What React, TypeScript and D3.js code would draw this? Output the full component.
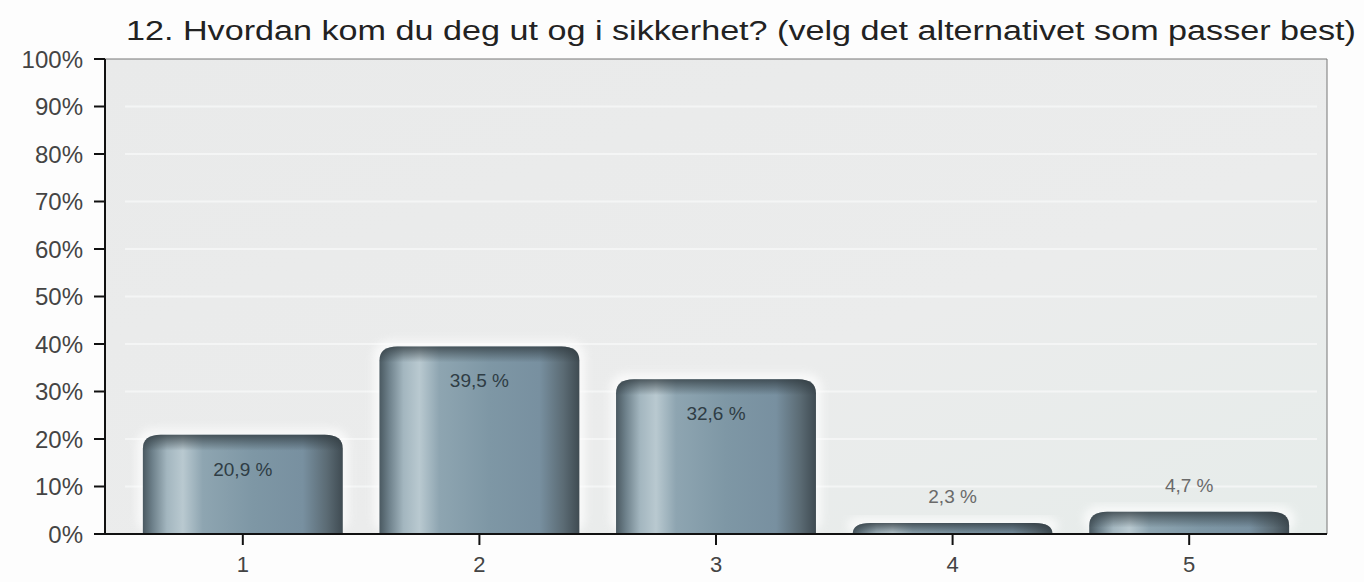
import React from "react";
import * as d3 from "d3";

const title = "12. Hvordan kom du deg ut og i sikkerhet? (velg det alternativet som passer best)";
const categories = ["1", "2", "3", "4", "5"];
const values = [20.9, 39.5, 32.6, 2.3, 4.7];
const valueLabels = ["20,9 %", "39,5 %", "32,6 %", "2,3 %", "4,7 %"];
const yTicks = [0, 10, 20, 30, 40, 50, 60, 70, 80, 90, 100];

const W = 1364;
const H = 582;
const left = 105;
const right = 1327;
const top = 59;
const bottom = 534;

function barPath(x0: number, y0: number, w: number, h: number) {
  const rx = Math.min(18, w / 2);
  const ry = Math.min(14, h);
  const x1 = x0 + w;
  const y1 = y0 + h;
  return `M${x0},${y1} L${x0},${y0 + ry} Q${x0},${y0} ${x0 + rx},${y0} L${x1 - rx},${y0} Q${x1},${y0} ${x1},${y0 + ry} L${x1},${y1} Z`;
}

export default function App() {
  const x = d3.scaleBand<string>().domain(categories).range([left, right]).paddingInner(0.155).paddingOuter(0.16);
  const y = d3.scaleLinear().domain([0, 100]).range([bottom, top]);
  const bw = x.bandwidth();
  const font = "'Liberation Sans', Arial, sans-serif";

  return (
    <svg width={W} height={H} style={{ position: "absolute", left: 0, top: 0, background: "#fdfdfd" }}>
      <defs>
        <linearGradient id="cyl" x1="0" x2="1" y1="0" y2="0">
          <stop offset="0" stopColor="#4a5961" />
          <stop offset="0.05" stopColor="#6f828c" />
          <stop offset="0.12" stopColor="#a3b6bf" />
          <stop offset="0.2" stopColor="#b9c9d0" />
          <stop offset="0.3" stopColor="#8ea5b1" />
          <stop offset="0.55" stopColor="#7e97a5" />
          <stop offset="0.8" stopColor="#7890a0" />
          <stop offset="0.92" stopColor="#5b6b74" />
          <stop offset="1" stopColor="#3f4b52" />
        </linearGradient>
        <linearGradient id="cap" x1="0" x2="0" y1="0" y2="1">
          <stop offset="0" stopColor="#2e383d" stopOpacity="0.75" />
          <stop offset="1" stopColor="#2e383d" stopOpacity="0" />
        </linearGradient>
        <linearGradient id="bg" x1="0" x2="1" y1="0" y2="1">
          <stop offset="0" stopColor="#e9eaea" />
          <stop offset="0.6" stopColor="#ebecec" />
          <stop offset="1" stopColor="#e6ecea" />
        </linearGradient>
        <filter id="glow" x="-10%" y="-10%" width="120%" height="120%">
          <feGaussianBlur stdDeviation="4" />
        </filter>
      </defs>

      <text x={741} y={40} textAnchor="middle" fontFamily={font} fontSize={27} fill="#222"
        textLength={1230} lengthAdjust="spacingAndGlyphs">{title}</text>

      <rect x={left} y={top} width={right - left} height={bottom - top} fill="url(#bg)" />
      {yTicks.slice(1, -1).map((t) => (
        <line key={"g" + t} x1={left + 20} x2={right - 10} y1={y(t)} y2={y(t)} stroke="#f4f5f5" strokeWidth={2} />
      ))}

      {values.map((v, i) => {
        const x0 = x(categories[i])!;
        const y0 = y(v);
        const h = bottom - y0;
        return (
          <g key={"b" + i}>
            <rect x={x0 - 6} y={y0 - 6} width={bw + 12} height={h + 6} rx={16} fill="#ffffff" opacity={0.7} filter="url(#glow)" />
            <path d={barPath(x0, y0, bw, h)} fill="url(#cyl)" />
            <path d={barPath(x0, y0, bw, Math.min(h, 16))} fill="url(#cap)" />
          </g>
        );
      })}

      {values.map((v, i) => {
        const cx = x(categories[i])! + bw / 2;
        const y0 = y(v);
        const inside = v > 10;
        return (
          <text key={"l" + i} x={cx} y={inside ? y0 + 41 : y0 - 20} textAnchor="middle" fontFamily={font}
            fontSize={19} fill={inside ? "#2f3d45" : "#6a6a6a"}>{valueLabels[i]}</text>
        );
      })}

      <line x1={left} x2={right} y1={top} y2={top} stroke="#777" strokeWidth={1} />
      <line x1={right} x2={right} y1={top} y2={bottom} stroke="#777" strokeWidth={1} />
      <line x1={left} x2={left} y1={top} y2={bottom + 1} stroke="#111" strokeWidth={2} />
      <line x1={left - 10} x2={right} y1={bottom} y2={bottom} stroke="#111" strokeWidth={2} />

      {yTicks.map((t) => (
        <g key={"t" + t}>
          <line x1={left - 11} x2={left} y1={y(t)} y2={y(t)} stroke="#111" strokeWidth={2} />
          <text x={83} y={y(t)} dy="0.36em" textAnchor="end" fontFamily={font} fontSize={24} fill="#444">{t + "%"}</text>
        </g>
      ))}

      {categories.map((c) => {
        const cx = x(c)! + bw / 2;
        return (
          <g key={"c" + c}>
            <line x1={cx} x2={cx} y1={bottom} y2={bottom + 11} stroke="#111" strokeWidth={2} />
            <text x={cx} y={572} textAnchor="middle" fontFamily={font} fontSize={22} fill="#444">{c}</text>
          </g>
        );
      })}
    </svg>
  );
}
